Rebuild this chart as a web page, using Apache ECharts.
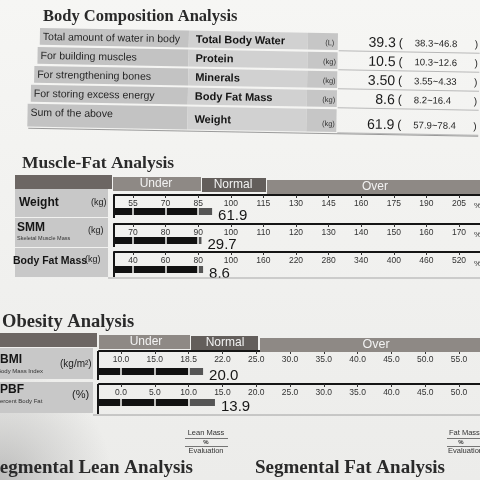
<!DOCTYPE html>
<html><head><meta charset="utf-8">
<script src="https://cdn.jsdelivr.net/npm/echarts@6/dist/echarts.min.js"></script>
<style>html,body{margin:0;padding:0;background:#efefed}#c{width:480px;height:480px}</style>
</head><body><div id="c"></div>
<script>
// ---------- DATA ----------
const compDescriptions = ['Total amount of water in body','For building muscles','For strengthening bones','For storing excess energy','Sum of the above'];
const compNames = ['Total Body Water','Protein','Minerals','Body Fat Mass','Weight'];
const compUnits = ['(L)','(kg)','(kg)','(kg)','(kg)'];
const compValues = ['39.3','10.5','3.50','8.6','61.9'];
const compRanges = ['38.3~46.8','10.3~12.6','3.55~4.33','8.2~16.4','57.9~78.4'];

const weightTicks = [55,70,85,100,115,130,145,160,175,190,205];
const smmTicks = [70,80,90,100,110,120,130,140,150,160,170];
const bfmTicks = [40,60,80,100,160,220,280,340,400,460,520];
const bmiTicks = [10.0,15.0,18.5,22.0,25.0,30.0,35.0,40.0,45.0,50.0,55.0];
const pbfTicks = [0.0,5.0,10.0,15.0,20.0,25.0,30.0,35.0,40.0,45.0,50.0];

const rangeHeaders = ['Under','Normal','Over'];
const muscleFatNames = ['Weight','SMM','Body Fat Mass'];
const muscleFatPct = [91.4, 91, 83];          // bar end, in % of standard
const muscleFatValues = ['61.9','29.7','8.6'];
const obesityNames = ['BMI','PBF'];
const obesityBar = [20.0, 13.9];
const obesityValues = ['20.0','13.9'];

// ---------- LAYOUT ----------
const SANS = '"Liberation Sans", Arial, sans-serif';
const SERIF = '"Liberation Serif", "Times New Roman", serif';

function idxOf(ticks, v){
  const n = ticks.length;
  if (v <= ticks[0]) return (v - ticks[0]) / (ticks[1] - ticks[0]);
  for (let k = 0; k < n - 1; k++) if (v <= ticks[k+1]) return k + (v - ticks[k]) / (ticks[k+1] - ticks[k]);
  return n - 1 + (v - ticks[n-1]) / (ticks[n-1] - ticks[n-2]);
}
function lastTickIdx(ticks, v){ let k = 0; ticks.forEach((t,i)=>{ if (t <= v) k = i; }); return k; }

const barRows = [
  {ticks: weightTicks, dec:0, val: muscleFatPct[0], text: muscleFatValues[0], left:114, step:32.6, offPx:19, lineY:195, barTop:208},
  {ticks: smmTicks,    dec:0, val: muscleFatPct[1], text: muscleFatValues[1], left:114, step:32.6, offPx:19, lineY:224, barTop:237},
  {ticks: bfmTicks,    dec:0, val: muscleFatPct[2], text: muscleFatValues[2], left:114, step:32.6, offPx:19, lineY:252, barTop:266},
  {ticks: bmiTicks,    dec:1, val: obesityBar[0],   text: obesityValues[0],   left:99,  step:33.8, offPx:22, lineY:351, barTop:368},
  {ticks: pbfTicks,    dec:1, val: obesityBar[1],   text: obesityValues[1],   left:99,  step:33.8, offPx:22, lineY:384, barTop:399}
];

const grids = [], xAxes = [], yAxes = [], series = [];
barRows.forEach((r, i) => {
  const offU = r.offPx / r.step;
  const maxU = (480 - r.left) / r.step;
  const tickU = r.ticks.map((t, k) => offU + k);
  const valU = offU + idxOf(r.ticks, r.val);
  const blackU = offU + lastTickIdx(r.ticks, r.val);
  grids.push({left: r.left, top: r.barTop, width: 480 - r.left, height: 7});
  xAxes.push({
    gridIndex: i, type: 'value', position: 'top', offset: r.barTop - r.lineY, min: 0, max: maxU,
    axisLine: {show: true, onZero: false, lineStyle: {color: '#151515', width: 2}},
    axisTick: {show: true, inside: true, length: 3, customValues: tickU, lineStyle: {color: '#333', width: 1}},
    axisLabel: {show: true, inside: true, margin: 4, customValues: tickU, fontSize: 8.5, fontFamily: SANS, color: '#333',
      formatter: (v) => { const t = r.ticks[Math.round(v - offU)]; return t === undefined ? '' : t.toFixed(r.dec); }},
    splitLine: {show: false}
  });
  yAxes.push({gridIndex: i, type: 'category', data: ['r' + i], show: false});
  series.push({
    type: 'bar', xAxisIndex: i, yAxisIndex: i, stack: 's' + i, data: [blackU], barWidth: 7,
    itemStyle: {color: '#111'}, silent: true, animation: false,
    markLine: {silent: true, symbol: 'none', animation: false, label: {show: false},
      lineStyle: {color: '#f4f4f2', width: 1.5, type: 'solid'},
      data: tickU.filter((u, k) => r.ticks[k] < r.val).map(u => ({xAxis: u}))}
  });
  series.push({
    type: 'bar', xAxisIndex: i, yAxisIndex: i, stack: 's' + i, data: [valU - blackU], barWidth: 7,
    itemStyle: {color: '#555'}, silent: true, animation: false,
    label: {show: true, position: 'right', distance: 6, offset: [0, 4], formatter: r.text,
      fontSize: 15, fontFamily: SANS, color: '#161616'}
  });
});

// ---------- GRAPHICS ----------
const G = [];
function rect(arr, x, y, w, h, fill, z){ arr.push({type:'rect', z: z || 1, silent:true, shape:{x, y, width:w, height:h}, style:{fill}}); }
function line(arr, x1, y1, x2, y2, stroke, w){ arr.push({type:'line', z:3, silent:true, shape:{x1, y1, x2, y2}, style:{stroke, lineWidth:w}}); }
function text(arr, str, x, y, font, fill, align){ arr.push({type:'text', z:4, silent:true, x, y, style:{text:str, font, fill, align: align || 'left', verticalAlign:'middle'}}); }

G.push({type:'rect', z:-10, silent:true, shape:{x:0,y:0,width:480,height:480},
  style:{fill:{type:'linear',x:0,y:0,x2:0,y2:1,colorStops:[{offset:0,color:'#f6f6f4'},{offset:1,color:'#ececea'}]}}});
G.push({type:'rect', z:-9, silent:true, shape:{x:0,y:330,width:300,height:150},
  style:{fill:{type:'radial',x:0,y:1,r:0.75,colorStops:[{offset:0,color:'rgba(140,140,140,0.5)'},{offset:0.5,color:'rgba(150,150,150,0.25)'},{offset:1,color:'rgba(150,150,150,0)'}]}}});

// Titles
text(G, 'Body Composition Analysis', 43, 17, 'bold 16.5px ' + SERIF, '#2a2a2a');
text(G, 'Muscle-Fat Analysis', 22, 163, 'bold 17.5px ' + SERIF, '#2a2a2a');
text(G, 'Obesity Analysis', 2, 322, 'bold 18.5px ' + SERIF, '#2a2a2a');
text(G, 'Segmental Lean Analysis', 193, 468, 'bold 19px ' + SERIF, '#2a2a2a', 'right');
text(G, 'Segmental Fat Analysis', 255, 468, 'bold 19px ' + SERIF, '#2a2a2a');

// Body composition table (slightly rotated group)
const T = [];
const tTops = [28, 47, 66, 85, 104], tH = [18, 18, 18, 18, 24], tLefts = [40, 38, 35, 32, 29];
compNames.forEach((nm, i) => {
  const top = tTops[i], h = tH[i], c = top + h / 2;
  rect(T, tLefts[i], top, 189 - tLefts[i], h - 1.2, '#c3c3c3');
  rect(T, 189, top, 119, h - 1.2, '#d1d1d1');
  rect(T, 308, top, 30, h - 1.2, '#c6c6c6');
  line(T, 339, top + h - 0.5, 480, top + h - 0.5, '#b8b8b8', 1);
  text(T, compDescriptions[i], tLefts[i] + 3, i === 4 ? c - 3 : c, '10.5px ' + SANS, '#262626');
  text(T, nm, 196, i === 4 ? c + 1 : c, 'bold 11px ' + SANS, '#141414');
  text(T, compUnits[i], 330, i === 4 ? c + 3 : c + 1, '7.5px ' + SANS, '#333', 'center');
  text(T, compValues[i], 396, i === 4 ? c + 3 : c, '14px ' + SANS, '#1a1a1a', 'right');
  text(T, '(', 399, i === 4 ? c + 3 : c, '12px ' + SANS, '#1a1a1a');
  text(T, compRanges[i], 415, i === 4 ? c + 3 : c, '9.5px ' + SANS, '#222');
  text(T, ')', 475, i === 4 ? c + 3 : c, '10px ' + SANS, '#222');
});
line(T, 30, 128.5, 480, 128.5, '#9a9a9a', 1);
G.push({type:'group', rotation:-0.0176, originX:40, originY:30, children:T});

// Muscle-Fat header
rect(G, 15, 175, 97, 14, '#6c6663');
rect(G, 113, 177, 88, 14, '#8e8985');
rect(G, 202, 178, 64, 14, '#635e5b');
rect(G, 267, 180, 213, 14, '#8e8985');
text(G, rangeHeaders[0], 156, 184, '12px ' + SANS, '#f2f2f2', 'center');
text(G, rangeHeaders[1], 233, 185, '12px ' + SANS, '#f2f2f2', 'center');
text(G, rangeHeaders[2], 375, 187, '12px ' + SANS, '#f2f2f2', 'center');
// Muscle-Fat panels
[[189, 28], [218, 29], [248, 29]].forEach(p => rect(G, 15, p[0], 93, p[1], '#c8c8c8'));
text(G, muscleFatNames[0], 19, 203, 'bold 12px ' + SANS, '#151515');
text(G, '(kg)', 91, 203, '9px ' + SANS, '#222');
text(G, muscleFatNames[1], 17, 228, 'bold 12px ' + SANS, '#151515');
text(G, 'Skeletal Muscle Mass', 17, 238.5, '5.5px ' + SANS, '#333');
text(G, '(kg)', 88, 231, '9px ' + SANS, '#222');
text(G, muscleFatNames[2], 13, 261, 'bold 10.5px ' + SANS, '#151515');
text(G, '(kg)', 85, 260, '9px ' + SANS, '#222');
[[195, 218], [224, 247], [252, 277]].forEach(p => line(G, 114, p[0], 114, p[1], '#151515', 2));
line(G, 108, 278, 480, 278, '#a8a8a8', 1);
[206, 235, 264].forEach(y => text(G, '%', 474, y, '8px ' + SANS, '#333'));

// Obesity header
rect(G, 0, 333, 97, 14, '#6c6663');
rect(G, 99, 335, 91, 14, '#8e8985');
rect(G, 191, 336, 67, 14, '#635e5b');
rect(G, 260, 338, 220, 14, '#8e8985');
text(G, rangeHeaders[0], 146, 342, '12px ' + SANS, '#f2f2f2', 'center');
text(G, rangeHeaders[1], 225, 343, '12px ' + SANS, '#f2f2f2', 'center');
text(G, rangeHeaders[2], 376, 345, '12.5px ' + SANS, '#f2f2f2', 'center');
// Obesity panels
rect(G, 0, 348, 93, 31, '#c8c8c8');
rect(G, 0, 382, 93, 31, '#c8c8c8');
text(G, obesityNames[0], 0, 360, 'bold 12px ' + SANS, '#151515');
text(G, 'Body Mass Index', -3, 371, '6px ' + SANS, '#333');
text(G, '(kg/m²)', 60, 364, '10px ' + SANS, '#222');
text(G, obesityNames[1], 0, 390, 'bold 12px ' + SANS, '#151515');
text(G, 'Percent Body Fat', -4, 401, '6px ' + SANS, '#333');
text(G, '(%)', 72, 395, '11px ' + SANS, '#222');
[[351, 380], [384, 414]].forEach(p => line(G, 98, p[0], 98, p[1], '#151515', 2));
line(G, 93, 415, 480, 415, '#a0a0a0', 1);

// Segmental keys
text(G, 'Lean Mass', 206, 433, '7.5px ' + SANS, '#333', 'center');
line(G, 185, 438.5, 228, 438.5, '#555', 0.8);
text(G, '%', 206, 442.5, 'bold 6px ' + SANS, '#333', 'center');
line(G, 185, 446.5, 228, 446.5, '#555', 0.8);
text(G, 'Evaluation', 206, 451, '7.5px ' + SANS, '#333', 'center');
text(G, 'Fat Mass', 449, 433, '7.5px ' + SANS, '#333');
line(G, 447, 438.5, 480, 438.5, '#555', 0.8);
text(G, '%', 461, 442.5, 'bold 6px ' + SANS, '#333', 'center');
line(G, 447, 446.5, 480, 446.5, '#555', 0.8);
text(G, 'Evaluation', 448, 451, '7.5px ' + SANS, '#333');

const chart = echarts.init(document.getElementById('c'), null, {width: 480, height: 480});
chart.setOption({
  animation: false,
  backgroundColor: '#efefed',
  grid: grids, xAxis: xAxes, yAxis: yAxes, series: series,
  graphic: {elements: G}
});
</script>
</body></html>
